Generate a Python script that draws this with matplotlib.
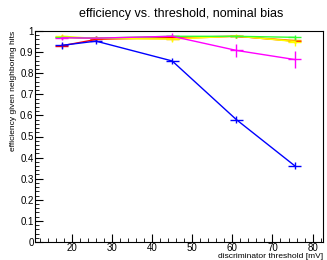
import matplotlib
matplotlib.use("Agg")
import matplotlib.pyplot as plt
from matplotlib.ticker import MultipleLocator

plt.rcParams['font.family'] = ['Liberation Sans', 'DejaVu Sans']

# thresholds (mV)
threshold = [17.5, 26, 45, 61, 75.5]

# efficiency curves, one per bias setting
eff_red = [0.930, 0.960, 0.970, 0.975, 0.952]
eff_orange = [0.970, 0.965, 0.963, 0.975, 0.955]
eff_yellow = [0.975, 0.965, 0.962, 0.976, 0.950]
eff_green = [0.970, 0.966, 0.975, 0.975, 0.970]
eff_magenta = [0.968, 0.966, 0.975, 0.908, 0.865]
eff_blue = [0.932, 0.952, 0.858, 0.580, 0.362]

err_red = [0.012, 0.010, 0.010, 0.008, 0.010]
err_orange = [0.010, 0.010, 0.010, 0.008, 0.010]
err_yellow = [0.010, 0.010, 0.015, 0.008, 0.020]
err_green = [0.008, 0.008, 0.008, 0.008, 0.012]
err_magenta = [0.012, 0.012, 0.015, 0.030, 0.040]
err_blue = [0.015, 0.015, 0.015, 0.015, 0.015]

series = [
    (eff_red, err_red, "#ff0000"),
    (eff_orange, err_orange, "#ff9900"),
    (eff_yellow, err_yellow, "#ffff00"),
    (eff_green, err_green, "#33ff33"),
    (eff_magenta, err_magenta, "#ff00ff"),
    (eff_blue, err_blue, "#0000ff"),
]

fig = plt.figure(figsize=(3.27, 2.6), dpi=100)
ax = fig.add_axes([35/327, 1 - 242/260, 288/327, 211/260])

for y, e, c in series:
    ax.errorbar(threshold, y, yerr=e, xerr=1.6, color=c, lw=1.0,
                elinewidth=1.0, capsize=0)

ax.set_xlim(10.8, 82.6)
ax.set_ylim(0, 1.0)
ax.xaxis.set_major_locator(MultipleLocator(10))
ax.xaxis.set_minor_locator(MultipleLocator(2))
ax.yaxis.set_major_locator(MultipleLocator(0.1))
ax.yaxis.set_minor_locator(MultipleLocator(0.02))
ax.set_xticks([20, 30, 40, 50, 60, 70, 80])
ax.set_yticks([0, 0.1, 0.2, 0.3, 0.4, 0.5, 0.6, 0.7, 0.8, 0.9, 1.0])
ax.set_yticklabels(["0", "0.1", "0.2", "0.3", "0.4", "0.5", "0.6", "0.7", "0.8", "0.9", "1"])
ax.tick_params(which='both', direction='in', labelsize=7, pad=1)
ax.tick_params(which='major', length=6)
ax.tick_params(which='minor', length=3)

ax.set_xlabel("discriminator threshold [mV]", fontsize=6, loc='right', labelpad=0)
ax.set_ylabel("efficiency given neighboring hits", fontsize=6, loc='top', labelpad=2)
fig.text(181/327, 1 - 14/260, "efficiency vs. threshold, nominal bias",
         ha='center', va='center', fontsize=9)

fig.savefig("out.png", dpi=100)
